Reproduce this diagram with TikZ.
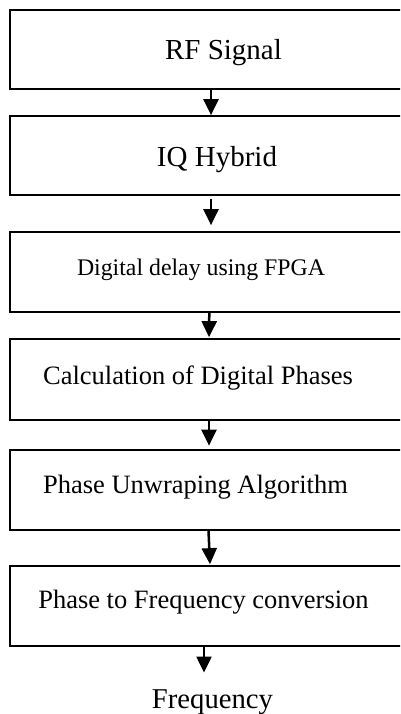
\documentclass[tikz,border=0pt]{standalone}
\usepackage{fontspec}
\setmainfont{Liberation Serif}
\usetikzlibrary{arrows.meta}
\tikzset{
  box/.style={draw=black, line width=1.7pt, rectangle, minimum width=400pt, inner sep=0pt},
  arr/.style={line width=2.5pt, -{Triangle[length=16pt, width=15pt]}},
  lbl/.style={anchor=base, inner sep=0pt, text=black}
}
\begin{document}
\begin{tikzpicture}[x=1pt, y=-1pt]
\useasboundingbox (0,0) rectangle (400,714);
\clip (0,0) rectangle (400,714);
\fill[white] (0,0) rectangle (400,714);
% boxes
\node[box, minimum height=79pt] (b1) at (210,49.5) {};
\node[box, minimum height=79pt] (b2) at (210,155.5) {};
\node[box, minimum height=80pt] (b3) at (210,272) {};
\node[box, minimum height=81pt] (b4) at (210,379.5) {};
\node[box, minimum height=80pt] (b5) at (210,490) {};
\node[box, minimum height=80pt] (b6) at (210,606) {};
% texts
\node[lbl, font=\fontsize{29pt}{34pt}\selectfont] (t1) at (223.5,60) {RF Signal};
\node[lbl, font=\fontsize{29pt}{34pt}\selectfont] (t2) at (217,167) {IQ Hybrid};
\node[lbl, font=\fontsize{23.8pt}{28pt}\selectfont] (t3) at (201,275.7) {Digital delay using FPGA};
\node[lbl, font=\fontsize{26.5pt}{31pt}\selectfont] (t4) at (198,384) {Calculation of Digital Phases};
\node[lbl, font=\fontsize{26.5pt}{31pt}\selectfont] (t5) at (195.5,493) {Phase Unwraping Algorithm};
\node[lbl, font=\fontsize{26.5pt}{31pt}\selectfont] (t6) at (203.5,608) {Phase to Frequency conversion};
\node[lbl, font=\fontsize{28.7pt}{33pt}\selectfont] (t7) at (212.5,708) {Frequency};
\coordinate (fend) at (204,672.5);
% arrows
\draw[arr] ([xshift=1pt]b1.south) -- ([xshift=1pt]b2.north);
\draw[arr] ([xshift=1pt,yshift=-3pt]b2.south) -- ([xshift=1pt,yshift=6pt]b3.north);
\draw[arr] ([xshift=-0.7pt]b3.south) -- ([xshift=-1pt,yshift=1pt]b4.north);
\draw[arr] ([xshift=-1pt]b4.south) -- ([xshift=-1pt,yshift=3.5pt]b5.north);
\draw[arr] ([xshift=-1.5pt]b5.south) -- ([yshift=1pt]b6.north);
\draw[arr] ([xshift=-6pt]b6.south) -- (fend);
\end{tikzpicture}
\end{document}
